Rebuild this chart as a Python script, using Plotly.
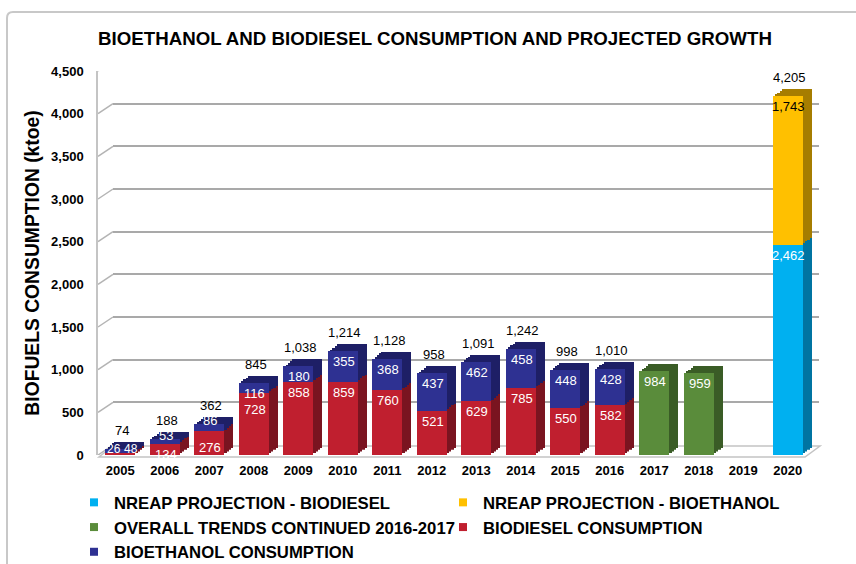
import plotly.graph_objects as go

# ---------------- data ----------------
years = ["2005", "2006", "2007", "2008", "2009", "2010", "2011", "2012",
         "2013", "2014", "2015", "2016", "2017", "2018", "2019", "2020"]
nreap_biodiesel = [None, None, None, None, None, None, None, None,
                   None, None, None, None, None, None, None, 2462]
nreap_bioethanol = [None, None, None, None, None, None, None, None,
                    None, None, None, None, None, None, None, 1743]
trend_continued = [None, None, None, None, None, None, None, None,
                   None, None, None, None, 984, 959, None, None]
biodiesel = [26, 134, 276, 728, 858, 859, 760, 521, 629, 785, 550, 582,
             None, None, None, None]
bioethanol = [48, 53, 86, 116, 180, 355, 368, 437, 462, 458, 448, 428,
              None, None, None, None]
totals = [74, 188, 362, 845, 1038, 1214, 1128, 958, 1091, 1242, 998, 1010,
          None, None, None, 4205]
y_ticks = [0, 500, 1000, 1500, 2000, 2500, 3000, 3500, 4000, 4500]

series = [
    ("NREAP PROJECTION - BIODIESEL", nreap_biodiesel, "#00B0F0", "#0074A2", "white"),
    ("NREAP PROJECTION - BIOETHANOL", nreap_bioethanol, "#FFC000", "#A67D00", "black"),
    ("OVERALL TRENDS CONTINUED 2016-2017", trend_continued, "#5A8C3B", "#3A5C26", "white"),
    ("BIODIESEL CONSUMPTION", biodiesel, "#C01F2F", "#7A1420", "white"),
    ("BIOETHANOL CONSUMPTION", bioethanol, "#2E3192", "#1E1F66", "white"),
]

FONT = "Liberation Sans, Arial, sans-serif"

# ---------------- geometry ----------------
W, H = 856, 564
L, R, T, B = 98, 31, 61, 109
PW = W - L - R
PH = H - T - B
FW, FH = 712, 384  # front face plotting area


def dom(d, size, total):
    return [d / total, (d + size) / total]


# subplot 1: back wall grid; 2..5 extrusion layers; 6: front faces
offsets = {1: (15, 10), 2: (9, 7), 3: (6.75, 5.25), 4: (4.5, 3.5), 5: (2.25, 1.75), 6: (0, 0)}

fig = go.Figure()

# dummy trace for the grid subplot
fig.add_trace(go.Scatter(x=years, y=[None] * len(years), mode="markers",
                         xaxis="x", yaxis="y", showlegend=False, hoverinfo="skip"))

for k in (2, 3, 4, 5):
    for name, vals, face, dark, tc in series:
        fig.add_trace(go.Bar(x=years, y=vals, marker=dict(color=dark, line=dict(width=0)),
                             xaxis=f"x{k}", yaxis=f"y{k}", showlegend=False,
                             hoverinfo="skip"))

for name, vals, face, dark, tc in series:
    fig.add_trace(go.Bar(x=years, y=vals, name=name,
                         marker=dict(color=face, line=dict(width=0)),
                         xaxis="x6", yaxis="y6", showlegend=False))

# legend entries
for name, vals, face, dark, tc in series:
    fig.add_trace(go.Scatter(x=[None], y=[None], mode="markers", name=name,
                             marker=dict(symbol="square", size=8, color=face),
                             xaxis="x6", yaxis="y6"))

# ---------------- axes ----------------
layout_axes = {}
for k, (dx, dy) in offsets.items():
    xs = "xaxis" if k == 1 else f"xaxis{k}"
    ys = "yaxis" if k == 1 else f"yaxis{k}"
    w = 706 if k == 1 else FW
    layout_axes[xs] = dict(domain=dom(dx, w, PW), anchor="y" if k == 1 else f"y{k}",
                           type="category", categoryorder="array", categoryarray=years,
                           range=[-0.5, 15.5], visible=False, fixedrange=True)
    layout_axes[ys] = dict(domain=dom(dy, FH, PH), anchor="x" if k == 1 else f"x{k}",
                           range=[0, 4500], visible=False, fixedrange=True)

layout_axes["yaxis"].update(visible=True, showgrid=True, gridcolor="#A9A9A9", gridwidth=1.5,
                            tickvals=y_ticks, showticklabels=False, zeroline=False,
                            showline=False, ticks="")
layout_axes["yaxis6"].update(visible=True, showgrid=False, zeroline=False, showline=True,
                             linecolor="#C4C4C4", linewidth=1.5, tickvals=y_ticks,
                             tickformat=",", ticks="", ticklabelstandoff=10,
                             tickfont=dict(family=FONT, size=13, color="black", weight="bold"),
                             title=dict(text="BIOFUELS CONSUMPTION (ktoe)", standoff=6,
                                        font=dict(family=FONT, size=19.3, color="black",
                                                  weight="bold")))
layout_axes["xaxis6"].update(visible=True, showgrid=False, zeroline=False, showline=False,
                             ticks="", ticklabelstandoff=6,
                             tickfont=dict(family=FONT, size=13, color="black", weight="bold"))

# ---------------- labels ----------------
annotations = []
base = [0.0] * len(years)
n_series = len(series)
for s_idx, (name, vals, face, dark, tc) in enumerate(series):
    for i, v in enumerate(vals):
        if v is None:
            continue
        b = base[i]
        top = b + v
        above = [series[j][1][i] for j in range(s_idx + 1, n_series)
                 if series[j][1][i] is not None]
        is_top = len(above) == 0
        small_bar = totals[i] is not None and totals[i] < 100
        xs, ys, fs = 1, 0, 13
        if small_bar:
            xs = -6 if name == "BIODIESEL CONSUMPTION" else 11
            y, ya, fs = totals[i], "middle", 12
        elif v >= 100:
            y, ya, ys = top, "top", -1
            if v >= 190 and above and above[0] < 150:
                ys = -7
        elif is_top:
            y, ya, ys = top, "middle", 4
        else:
            y, ya, ys = b + v / 2, "middle", -2
        annotations.append(dict(x=i, y=y, xref="x6", yref="y6", text=f"{v:,}",
                                showarrow=False, yanchor=ya, xshift=xs, yshift=ys,
                                font=dict(family=FONT, size=fs, color=tc)))
        base[i] = top

for i, t in enumerate(totals):
    if t is None:
        continue
    annotations.append(dict(x=i, y=t, xref="x6", yref="y6", text=f"{t:,}",
                            showarrow=False, yanchor="bottom", xshift=2, yshift=9,
                            font=dict(family=FONT, size=13, color="black")))

# ---------------- decorations ----------------
def px_x(p):
    return (p - L) / PW


def px_y(p):
    return (T + PH - p) / PH


shapes = []
# outer frame
shapes.append(dict(type="path", xref="paper", yref="paper", layer="below",
                   path=(f"M {px_x(7)},{px_y(600)} L {px_x(7)},{px_y(18)} "
                         f"Q {px_x(7)},{px_y(12)} {px_x(13)},{px_y(12)} L {px_x(880)},{px_y(12)}"),
                   line=dict(color="#C8C8C8", width=2)))
# floor
shapes.append(dict(type="path", xref="paper", yref="paper", layer="below",
                   path=(f"M {px_x(99)},{px_y(457)} L {px_x(805)},{px_y(457)} "
                         f"L {px_x(820)},{px_y(446)} L {px_x(113)},{px_y(446)} Z"),
                   fillcolor="white", line=dict(color="#C4C4C4", width=1.5)))
# side-wall slants of the gridlines
for v in y_ticks:
    shapes.append(dict(type="line", xref="paper", x0=0, x1=15 / PW,
                       yref="y6", ysizemode="pixel", yanchor=v, y0=0, y1=10,
                       line=dict(color="#B4B4B4", width=1.5), layer="below"))

fig.update_layout(
    width=W, height=H,
    margin=dict(l=L, r=R, t=T, b=B, autoexpand=False),
    paper_bgcolor="white", plot_bgcolor="rgba(0,0,0,0)",
    barmode="stack", bargap=0.326,
    font=dict(family=FONT, color="black"),
    title=dict(text="<b>BIOETHANOL AND BIODIESEL CONSUMPTION AND PROJECTED GROWTH</b>",
               x=435 / W, xanchor="center", y=1 - 38 / H, yanchor="middle",
               font=dict(family=FONT, size=18.7, color="black")),
    legend=dict(orientation="h", x=px_x(74), xanchor="left", y=px_y(485), yanchor="top",
                traceorder="normal", itemwidth=30, entrywidth=324, entrywidthmode="pixels",
                font=dict(family=FONT, size=16.7, color="black", weight="bold"),
                bgcolor="rgba(0,0,0,0)"),
    annotations=annotations,
    shapes=shapes,
    showlegend=True,
    **layout_axes,
)

fig.write_html("out.html", config={"displayModeBar": False},
               post_script="document.body.style.margin='0';document.body.style.overflow='hidden';")
